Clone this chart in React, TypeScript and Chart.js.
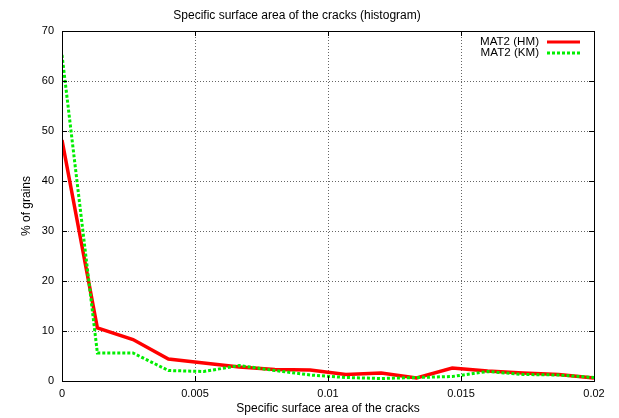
import { useEffect, useRef } from 'react';
import { Chart, registerables } from 'chart.js';

Chart.register(...registerables);

const chartTitle = 'Specific surface area of the cracks (histogram)';
const xAxisTitle = 'Specific surface area of the cracks';
const yAxisTitle = '% of grains';

const binCenters = [0, 0.00133, 0.00267, 0.004, 0.00533, 0.00667, 0.008, 0.00933, 0.01067, 0.012, 0.01333, 0.01467, 0.016, 0.01733, 0.01867, 0.02];
const hmValues = [48.2, 10.6, 8.3, 4.4, 3.6, 2.8, 2.3, 2.2, 1.3, 1.6, 0.6, 2.6, 2.0, 1.6, 1.3, 0.6];
const kmValues = [65.2, 5.6, 5.6, 2.1, 1.9, 3.1, 2.1, 1.2, 0.7, 0.5, 0.7, 0.9, 1.9, 1.3, 1.2, 0.7];

const seriesLabels = ['MAT2 (HM)', 'MAT2 (KM)'];
const seriesColors = ['#ff0000', '#00ee00'];

const xMin = 0;
const xMax = 0.02;
const xStep = 0.005;
const yMin = 0;
const yMax = 70;
const yStep = 10;

const FONT = 'Liberation Sans, Arial, sans-serif';

const frameAndLegend = {
  id: 'frameAndLegend',
  afterDatasetsDraw(chart: any) {
    const { ctx, chartArea } = chart;
    const { left, right, top, bottom } = chartArea;
    ctx.save();
    ctx.strokeStyle = '#000';
    ctx.lineWidth = 1;
    ctx.setLineDash([]);
    const yScale = chart.scales.y;
    const xScale = chart.scales.x;
    ctx.beginPath();
    yScale.ticks.forEach((t: any) => {
      const py = Math.round(yScale.getPixelForValue(t.value)) + 0.5;
      ctx.moveTo(left, py);
      ctx.lineTo(left + 5, py);
      ctx.moveTo(right, py);
      ctx.lineTo(right - 5, py);
    });
    xScale.ticks.forEach((t: any) => {
      const px = Math.round(xScale.getPixelForValue(t.value)) + 0.5;
      ctx.moveTo(px, bottom);
      ctx.lineTo(px, bottom - 5);
      ctx.moveTo(px, top);
      ctx.lineTo(px, top + 5);
    });
    ctx.stroke();
    ctx.strokeRect(Math.round(left) + 0.5, Math.round(top) + 0.5, Math.round(right - left), Math.round(bottom - top));

    ctx.font = `11.6px ${FONT}`;
    ctx.fillStyle = '#000';
    ctx.textAlign = 'right';
    ctx.textBaseline = 'middle';
    const rows = [42, 53];
    chart.data.datasets.forEach((ds: any, i: number) => {
      const y = rows[i];
      ctx.fillText(ds.label, 539, y);
      ctx.beginPath();
      ctx.strokeStyle = ds.borderColor;
      ctx.lineWidth = 3;
      ctx.setLineDash(ds.borderDash || []);
      ctx.moveTo(547, y);
      ctx.lineTo(580, y);
      ctx.stroke();
    });
    ctx.restore();
  },
};

export default function App() {
  const canvasRef = useRef<HTMLCanvasElement | null>(null);

  useEffect(() => {
    if (!canvasRef.current) return;
    const chart = new Chart(canvasRef.current, {
      type: 'line',
      data: {
        datasets: [
          {
            label: seriesLabels[0],
            data: binCenters.map((x, i) => ({ x, y: hmValues[i] })),
            borderColor: seriesColors[0],
            borderWidth: 3.5,
            pointRadius: 0,
            tension: 0,
            fill: false,
            order: 1,
          },
          {
            label: seriesLabels[1],
            data: binCenters.map((x, i) => ({ x, y: kmValues[i] })),
            borderColor: seriesColors[1],
            borderWidth: 3,
            borderDash: [3, 2],
            pointRadius: 0,
            tension: 0,
            fill: false,
            order: 0,
          },
        ],
      },
      options: {
        animation: false,
        responsive: false,
        maintainAspectRatio: false,
        layout: { padding: { left: 0, right: 25, top: 0, bottom: 0 } },
        plugins: {
          legend: { display: false },
          tooltip: { enabled: false },
          title: {
            display: true,
            text: chartTitle,
            color: '#000',
            font: { family: FONT, size: 12, weight: 'normal' },
            padding: { top: 8, bottom: 8.6 },
          },
        },
        scales: {
          x: {
            type: 'linear',
            min: xMin,
            max: xMax,
            afterFit(scale: any) {
              scale.height = 37;
            },
            ticks: {
              stepSize: xStep,
              color: '#000',
              padding: 6,
              maxRotation: 0,
              font: { family: FONT, size: 11 },
              callback: (v: any) => String(parseFloat(Number(v).toFixed(4))),
            },
            grid: { color: '#666', lineWidth: 1, tickLength: 0, drawTicks: false },
            border: { display: false, dash: [1, 2] },
            title: {
              display: true,
              text: xAxisTitle,
              color: '#000',
              font: { family: FONT, size: 12 },
              padding: { top: 0, bottom: 2 },
            },
          },
          y: {
            type: 'linear',
            min: yMin,
            max: yMax,
            afterFit(scale: any) {
              scale.width = 62;
            },
            ticks: {
              stepSize: yStep,
              color: '#000',
              padding: 8,
              font: { family: FONT, size: 11 },
            },
            grid: { color: '#666', lineWidth: 1, tickLength: 0, drawTicks: false },
            border: { display: false, dash: [1, 2] },
            title: {
              display: true,
              text: yAxisTitle,
              color: '#000',
              font: { family: FONT, size: 12 },
              padding: { top: 19, bottom: 0 },
            },
          },
        },
      },
      plugins: [frameAndLegend],
    });
    return () => chart.destroy();
  }, []);

  return (
    <div style={{ position: 'fixed', left: 0, top: 0, width: 619, height: 418, background: '#fff' }}>
      <canvas ref={canvasRef} width={619} height={418} />
    </div>
  );
}
